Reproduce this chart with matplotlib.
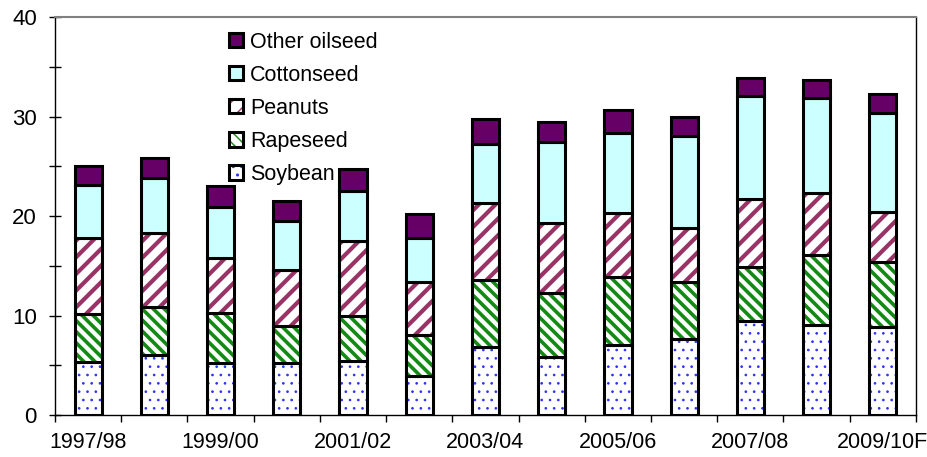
import numpy as np
import matplotlib.pyplot as plt
from matplotlib.patches import Patch

plt.rcParams['font.family'] = ['Liberation Sans', 'DejaVu Sans']

# Campañas (una barra por campaña)
campanas = ['1997/98', '1998/99', '1999/00', '2000/01', '2001/02', '2002/03', '2003/04',
            '2004/05', '2005/06', '2006/07', '2007/08', '2008/09', '2009/10F']

# Valores por cultivo
soybean = [5.3, 6.0, 5.2, 5.2, 5.4, 3.9, 6.8, 5.8, 7.0, 7.6, 9.4, 9.0, 8.8]
rapeseed = [4.9, 4.9, 5.1, 3.7, 4.5, 4.1, 6.8, 6.5, 6.9, 5.8, 5.5, 7.1, 6.6]
peanuts = [7.6, 7.4, 5.5, 5.7, 7.6, 5.4, 7.7, 7.0, 6.4, 5.4, 6.8, 6.2, 5.0]
cottonseed = [5.3, 5.5, 5.1, 4.9, 5.0, 4.4, 5.9, 8.1, 8.0, 9.2, 10.4, 9.6, 10.0]
other = [1.9, 2.0, 2.1, 2.0, 2.2, 2.4, 2.5, 2.0, 2.4, 1.9, 1.8, 1.8, 1.9]

# nombre, valores, relleno, color de trama, trama, grosor de trama
series = [
    ('Soybean', soybean, 'white', '#3030ff', '..', 0.7),
    ('Rapeseed', rapeseed, 'white', '#138a13', '\\\\\\', 2.6),
    ('Peanuts', peanuts, 'white', '#993366', '//', 3.0),
    ('Cottonseed', cottonseed, '#ccffff', '#ccffff', '', 1.0),
    ('Other oilseed', other, '#660066', '#660066', '', 1.0),
]

fig = plt.figure(figsize=(9.28, 4.57), dpi=100)
ax = fig.add_axes([0.0593, 0.0919, 0.9277, 0.8709])

x = np.arange(len(campanas))
ancho = 0.41
base = np.zeros(len(campanas))
handles = []
for nombre, vals, relleno, trama, hatch, hlw in series:
    vals = np.array(vals)
    with plt.rc_context({'hatch.linewidth': hlw}):
        # relleno con trama y luego el borde negro encima
        barras = ax.bar(x, vals, ancho, bottom=base, color=relleno, edgecolor=trama,
                        hatch=hatch, linewidth=0)
        muestra = Patch(facecolor=relleno, edgecolor=trama, hatch=hatch, linewidth=0)
    for p in list(barras) + [muestra]:
        if hasattr(p, 'set_hatch_linewidth'):
            p.set_hatch_linewidth(hlw)
    ax.bar(x, vals, ancho, bottom=base, fill=False, edgecolor='black', linewidth=2.2)
    base = base + vals
    handles.append((muestra, Patch(fill=False, edgecolor='black', linewidth=2.2)))

ax.set_xlim(-0.5, len(campanas) - 0.5)
ax.set_ylim(0, 40)

# marcas entre barras, etiquetas cada dos campañas
ax.set_xticks(np.arange(len(campanas) + 1) - 0.5)
ax.set_xticklabels([])
ax.set_xticks(x, [c if i % 2 == 0 else '' for i, c in enumerate(campanas)], minor=True)
ax.tick_params(axis='x', which='major', direction='out', length=5, width=1)
ax.tick_params(axis='x', which='minor', length=0, pad=12, labelsize=15.5)

ax.set_yticks([0, 10, 20, 30, 40])
ax.set_yticks([5, 15, 25, 35], minor=True)
ax.tick_params(axis='y', which='both', direction='inout', length=8, width=1, labelsize=16, pad=9)

ax.spines['top'].set_color('#808080')
ax.spines['top'].set_linewidth(1.5)
for s in ['left', 'bottom', 'right']:
    ax.spines[s].set_linewidth(1)

nombres = [s[0] for s in series]
ax.legend(handles[::-1], nombres[::-1], loc='upper left', bbox_to_anchor=(0.19, 0.99),
          frameon=False, fontsize=15.5, handlelength=0.65, handleheight=0.65,
          handletextpad=0.3, labelspacing=0.56, borderpad=0)

fig.savefig('out.png', dpi=100)
